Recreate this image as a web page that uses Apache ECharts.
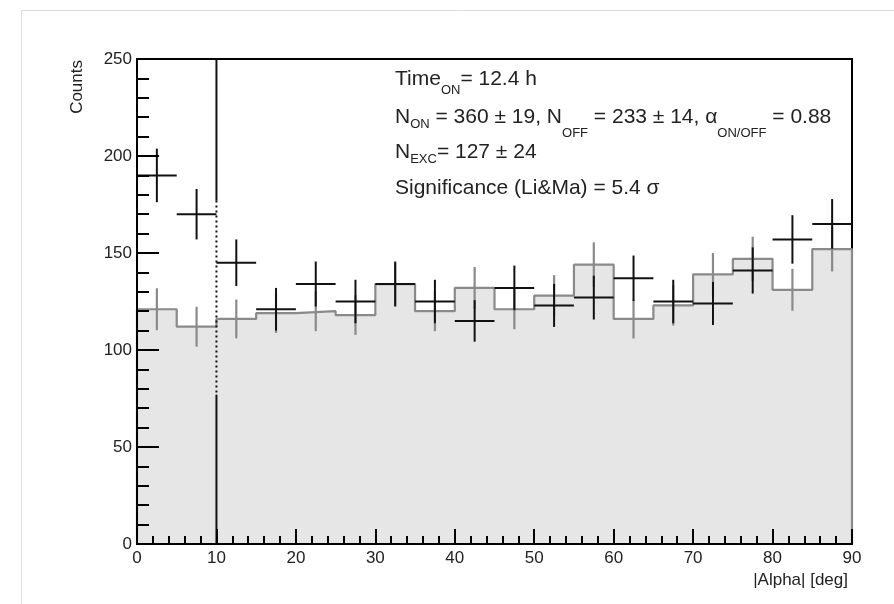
<!DOCTYPE html>
<html><head><meta charset="utf-8">
<script src="https://cdn.jsdelivr.net/npm/echarts@6/dist/echarts.min.js"></script>
<style>html,body{margin:0;padding:0;background:#fff}#c{width:894px;height:604px}</style>
</head><body><div id="c"></div>
<script>
// ---- data ----
const alphaBinCenters = [2.5, 7.5, 12.5, 17.5, 22.5, 27.5, 32.5, 37.5, 42.5, 47.5, 52.5, 57.5, 62.5, 67.5, 72.5, 77.5, 82.5, 87.5];
const binHalfWidth = 2.5;
const onCounts  = [190, 170, 145, 121, 134, 125, 134, 125, 115, 132, 123, 127, 137, 125, 124, 141, 157, 165];
const onErrors  = [13.8, 13.0, 12.0, 11.0, 11.6, 11.2, 11.6, 11.2, 10.7, 11.5, 11.1, 11.3, 11.7, 11.2, 11.1, 11.9, 12.5, 12.8];
const offCounts = [121, 112, 116, 119, 120, 118, 134, 120, 132, 121, 128, 144, 116, 123, 139, 147, 131, 152];
const offErrors = [10.8, 10.3, 10.0, 10.2, 10.3, 10.2, 11.0, 10.3, 10.8, 10.3, 10.6, 11.5, 10.1, 10.4, 11.0, 11.4, 10.8, 11.5];
const xRange = [0, 90];
const yRange = [0, 250];
const cutAlpha = 10;
const cutSegments = [[250, 177, 'solid'], [177, 77, 'dotted'], [77, 0, 'solid']];
const statLines = [
  '{m|Time}{s1|ON}{m|= 12.4 h}',
  '{m|N}{s2|ON}{m| = 360 ± 19, N}{s3|OFF}{m| = 233 ± 14, α}{s3|ON/OFF}{m| = 0.88}',
  '{m|N}{s2|EXC}{m|= 127 ± 24}',
  '{m|Significance (Li&Ma) = 5.4 σ}'
];
const xTitle = '|Alpha| [deg]';
const yTitle = 'Counts';

// ---- build ----
const FONT = '"Liberation Sans", Arial, Helvetica, sans-serif';
const offStep = [[xRange[0], 0]];
alphaBinCenters.forEach((c, i) => { offStep.push([c - binHalfWidth, offCounts[i]]); offStep.push([c + binHalfWidth, offCounts[i]]); });
offStep.push([xRange[1], 0]);

const onData = alphaBinCenters.map((c, i) => [c, onCounts[i], onErrors[i]]);
const offErrData = alphaBinCenters.map((c, i) => [c, offCounts[i], offErrors[i]]);
const cutData = cutSegments.map(s => [cutAlpha, s[0], s[1], s[2] === 'dotted' ? 1 : 0]);

const chart = echarts.init(document.getElementById('c'), null, {renderer: 'canvas'});
const axisCommon = {
  axisLine: {show: true, onZero: false, lineStyle: {color: '#000', width: 2}},
  splitLine: {show: false},
  axisLabel: {color: '#222', fontSize: 17, fontFamily: FONT}
};
const rich = {
  m:  {fontSize: 21, lineHeight: 22, verticalAlign: 'top', color: '#222', fontFamily: FONT},
  s1: {fontSize: 13, lineHeight: 13, verticalAlign: 'top', color: '#222', fontFamily: FONT, padding: [15, 0, 0, 0]},
  s2: {fontSize: 13, lineHeight: 13, verticalAlign: 'top', color: '#222', fontFamily: FONT, padding: [11, 0, 0, 0]},
  s3: {fontSize: 13, lineHeight: 13, verticalAlign: 'top', color: '#222', fontFamily: FONT, padding: [20, 0, 0, 0]}
};
const statTops = [69, 107, 142, 178];

chart.setOption({
  animation: false,
  backgroundColor: '#fff',
  grid: {left: 137, right: 42, top: 59, bottom: 60, show: true, borderColor: '#000', borderWidth: 2, backgroundColor: 'transparent', containLabel: false},
  xAxis: Object.assign({}, axisCommon, {
    type: 'value', min: xRange[0], max: xRange[1], interval: 10, z: 6,
    axisTick: {show: true, inside: true, length: 15, lineStyle: {color: '#000', width: 2}},
    minorTick: {show: true, splitNumber: 5, length: 8, lineStyle: {color: '#000', width: 2}},
    axisLabel: Object.assign({}, axisCommon.axisLabel, {margin: 6})
  }),
  yAxis: Object.assign({}, axisCommon, {
    type: 'value', min: yRange[0], max: yRange[1], interval: 50, z: 6,
    axisTick: {show: true, inside: true, length: 22, lineStyle: {color: '#000', width: 2}},
    minorTick: {show: true, splitNumber: 5, length: 12, lineStyle: {color: '#000', width: 2}},
    axisLabel: Object.assign({}, axisCommon.axisLabel, {margin: 5})
  }),
  graphic: [
    {type: 'line', z: 0, shape: {x1: 21.5, y1: 10, x2: 21.5, y2: 604}, style: {stroke: '#dcdcdc', lineWidth: 1}},
    {type: 'line', z: 0, shape: {x1: 21.5, y1: 10.5, x2: 894, y2: 10.5}, style: {stroke: '#dcdcdc', lineWidth: 1}},
    {type: 'text', x: 77, y: 60, rotation: Math.PI / 2, z: 10,
     style: {text: yTitle, align: 'right', verticalAlign: 'middle', fontSize: 17, fontFamily: FONT, fill: '#222'}},
    {type: 'text', x: 848, y: 580, z: 10,
     style: {text: xTitle, align: 'right', verticalAlign: 'middle', fontSize: 17, fontFamily: FONT, fill: '#222'}}
  ].concat(statLines.map((t, i) => ({
    type: 'text', x: 395, y: statTops[i], z: 10,
    style: {text: t, rich: rich, align: 'left', verticalAlign: 'top', fontSize: 21, fontFamily: FONT, fill: '#222'}
  }))),
  series: [
    {
      name: 'OFF', type: 'line', data: offStep, z: 2, symbol: 'none', silent: true,
      lineStyle: {color: '#8a8a8a', width: 2.2},
      areaStyle: {color: '#e6e6e6', opacity: 1}
    },
    {
      name: 'OFF errors', type: 'custom', z: 3, silent: true, data: offErrData,
      renderItem: (params, api) => {
        const x = api.value(0), v = api.value(1), e = api.value(2);
        const p1 = api.coord([x, v - e]), p2 = api.coord([x, v + e]);
        return {type: 'line', shape: {x1: p1[0], y1: p1[1], x2: p2[0], y2: p2[1]}, style: {stroke: '#8a8a8a', lineWidth: 2.2}};
      }
    },
    {
      name: 'ON', type: 'custom', z: 4, silent: true, data: onData,
      renderItem: (params, api) => {
        const x = api.value(0), v = api.value(1), e = api.value(2);
        const a = api.coord([x, v - e]), b = api.coord([x, v + e]);
        const l = api.coord([x - binHalfWidth, v]), r = api.coord([x + binHalfWidth, v]);
        return {type: 'group', children: [
          {type: 'line', shape: {x1: a[0], y1: a[1], x2: b[0], y2: b[1]}, style: {stroke: '#111', lineWidth: 2}},
          {type: 'line', shape: {x1: l[0], y1: l[1], x2: r[0], y2: r[1]}, style: {stroke: '#111', lineWidth: 2}}
        ]};
      }
    },
    {
      name: 'cut', type: 'custom', z: 5, silent: true, data: cutData,
      renderItem: (params, api) => {
        const x = api.value(0);
        const p1 = api.coord([x, api.value(1)]), p2 = api.coord([x, api.value(2)]);
        const dotted = api.value(3) === 1;
        return {type: 'line', shape: {x1: p1[0], y1: p1[1], x2: p2[0], y2: p2[1]},
          style: {stroke: '#111', lineWidth: 2, lineDash: dotted ? [2, 3] : null}};
      }
    }
  ]
});
</script></body></html>
